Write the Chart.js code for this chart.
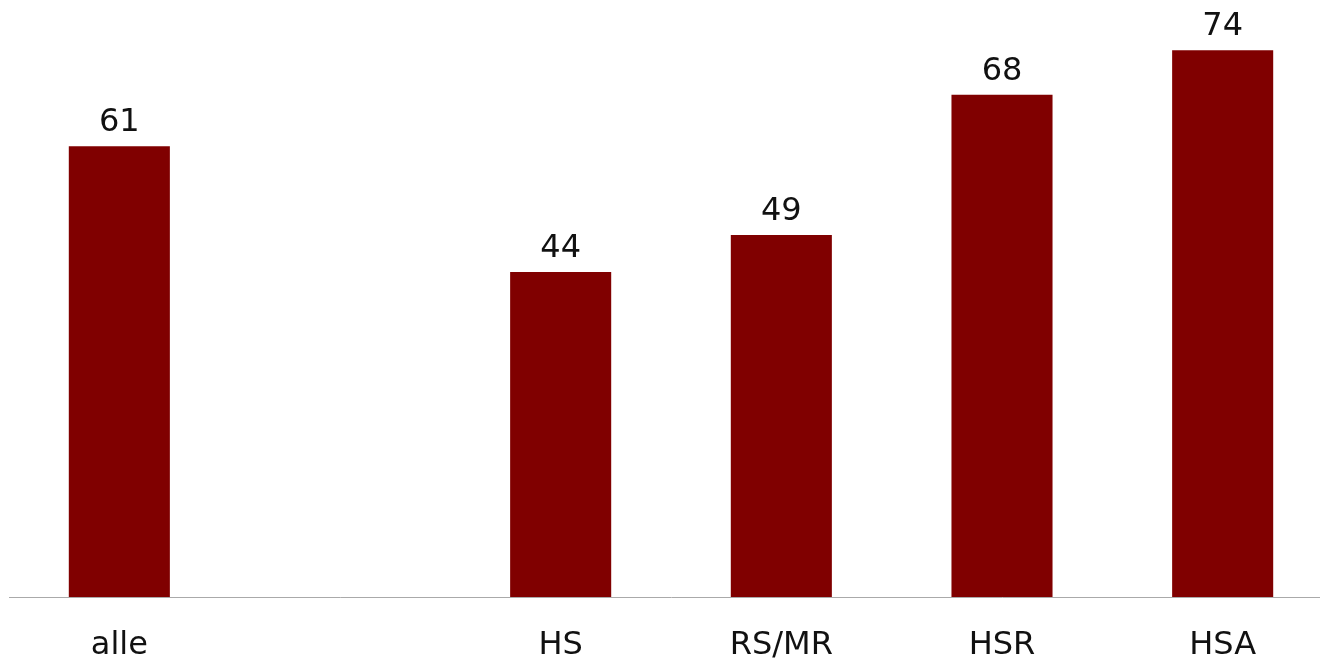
<!DOCTYPE html>
<html>
<head>
<meta charset="utf-8">
<script src="https://cdn.jsdelivr.net/npm/chart.js@4/dist/chart.umd.min.js"></script>
<style>
  html, body { margin: 0; padding: 0; background: #fff; overflow: hidden; }
  #wrap { width: 1340px; height: 660px; }
</style>
</head>
<body>
<div id="wrap"><canvas id="chart"></canvas></div>
<script>
const categories = ["alle", "", "HS", "RS/MR", "HSR", "HSA"];
const values = [61, null, 44, 49, 68, 74];

const FONT = "Verdana, 'DejaVu Sans', sans-serif";

// writes each bar's value just above its top edge
const valueLabels = {
  id: "valueLabels",
  afterDatasetsDraw(chart) {
    const ctx = chart.ctx;
    const meta = chart.getDatasetMeta(0);
    ctx.save();
    ctx.font = "32px " + FONT;
    ctx.fillStyle = "#111";
    ctx.textAlign = "center";
    ctx.textBaseline = "alphabetic";
    meta.data.forEach((bar, i) => {
      if (values[i] == null) return;
      ctx.fillText(String(values[i]), bar.x, bar.y - 15);
    });
    ctx.restore();
  },
};

new Chart(document.getElementById("chart"), {
  type: "bar",
  data: {
    labels: categories,
    datasets: [
      {
        data: values,
        backgroundColor: "#800000",
        categoryPercentage: 1,
        barPercentage: 0.458,
      },
    ],
  },
  options: {
    responsive: true,
    maintainAspectRatio: false,
    animation: false,
    layout: { padding: { left: 9, right: 7, top: 6, bottom: 0 } },
    plugins: { legend: { display: false }, tooltip: { enabled: false } },
    scales: {
      x: {
        grid: { display: false, drawTicks: false },
        border: { display: true, color: "#aaaaaa", width: 1 },
        ticks: {
          color: "#111",
          font: { family: FONT, size: 32 },
          padding: 29,
          maxRotation: 0,
          autoSkip: false,
        },
        afterFit(scale) {
          scale.height = 63;
        },
      },
      y: {
        display: false,
        min: 0,
        max: 80,
      },
    },
  },
  plugins: [valueLabels],
});
</script>
</body>
</html>
